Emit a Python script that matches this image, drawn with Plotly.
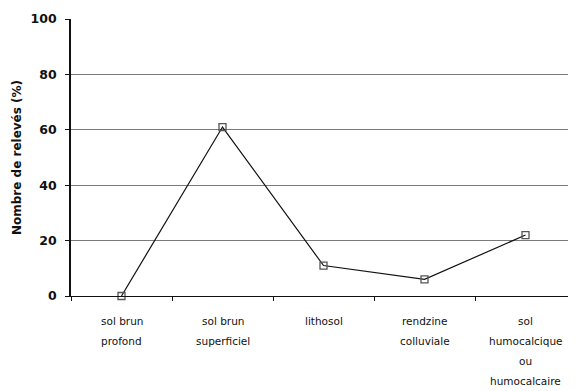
import plotly.graph_objects as go

categories = ["sol brun\nprofond", "sol brun\nsuperficiel", "lithosol",
              "rendzine\ncolluviale", "sol\nhumocalcique\nou\nhumocalcaire"]
values = [0, 61, 11, 6, 22]
y_ticks = [0, 20, 40, 60, 80, 100]

keys = [c.replace("\n", " ") for c in categories]

fig = go.Figure()
fig.add_trace(go.Scatter(
    x=keys, y=values, mode="lines+markers",
    line=dict(color="#111111", width=1.2),
    marker=dict(symbol="square-open", size=7, color="#555555",
                line=dict(width=1.3, color="#555555")),
    showlegend=False, cliponaxis=False))

font = "DejaVu Sans, Liberation Sans, sans-serif"
for k, c in zip(keys, categories):
    for i, line in enumerate(c.split("\n")):
        fig.add_annotation(x=k, xref="x", y=0, yref="paper", yanchor="middle",
                           yshift=-25 - 20 * i, text=line, showarrow=False,
                           font=dict(family=font, size=10.5, color="#111111"))

# page body adds an 8px margin, so the figure is sized to fit the 576x391 window
fig.update_layout(
    width=568, height=383,
    margin=dict(l=63, r=0, t=11, b=95),
    paper_bgcolor="white", plot_bgcolor="white",
    font=dict(family=font, color="#111111"),
    xaxis=dict(type="category", categoryorder="array", categoryarray=keys,
               showticklabels=False, tickson="boundaries", ticks="outside",
               ticklen=4, tickcolor="#111111", showline=True, linecolor="#111111",
               linewidth=1.2, showgrid=False, range=[-0.5, 4.5], zeroline=False,
               automargin=False),
    yaxis=dict(range=[0, 100], tickvals=y_ticks, ticks="outside", ticklen=4,
               tickcolor="#111111", showline=True, linecolor="#111111", linewidth=1.6,
               gridcolor="#7a7a7a", gridwidth=1, zeroline=False, automargin=False,
               ticklabelstandoff=6,
               tickfont=dict(size=12.5, family=font, color="#111111", weight="bold"),
               title=dict(text="Nombre de relevés (%)",
                          font=dict(size=12, family=font, weight="bold"),
                          standoff=6)),
)
fig.write_html("out.html")
